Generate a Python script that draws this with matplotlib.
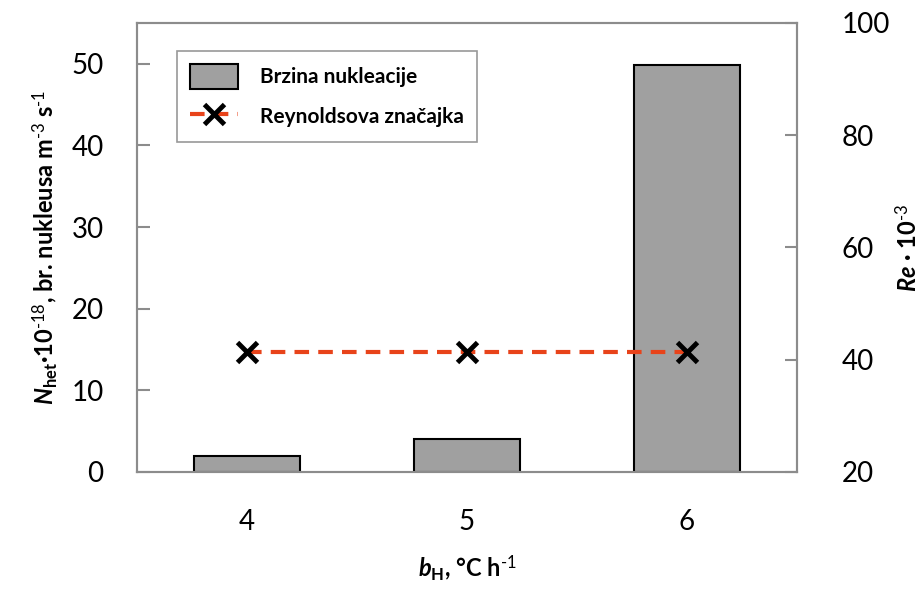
import matplotlib.pyplot as plt

plt.rcParams['font.family'] = ['Lato', 'DejaVu Sans']
plt.rcParams['mathtext.fontset'] = 'custom'
plt.rcParams['mathtext.rm'] = 'Lato'
plt.rcParams['mathtext.it'] = 'Lato:italic'
plt.rcParams['mathtext.bf'] = 'Lato:bold'
plt.rcParams['mathtext.bfit'] = 'Lato:bold:italic'

# data
brzina = ['4', '5', '6']
nukleacija = [2.0, 4.1, 49.8]
reynolds = [41.3, 41.3, 41.3]

fig = plt.figure(figsize=(9.23, 5.89), dpi=100)
ax = fig.add_axes([137/923, 1-472/589, 660/923, 449/589])
ax2 = ax.twinx()

x = list(range(len(brzina)))
ax.bar(x, nukleacija, width=0.48, color='#a0a0a0', edgecolor='black',
       linewidth=1.5, label='Brzina nukleacije', zorder=2)
ax2.plot(x, reynolds, color='#e8431a', ls=(0, (3.5, 2.2)), lw=3,
         marker='x', ms=14, mec='black', mew=3.5, label='Reynoldsova značajka')

ax.set_xlim(-0.5, 2.5)
ax.set_ylim(0, 55)
ax2.set_ylim(20, 100)
ax.set_xticks(x)
ax.set_xticklabels(brzina)
ax.set_yticks([0, 10, 20, 30, 40, 50])
ax2.set_yticks([20, 40, 60, 80, 100])

for a in (ax, ax2):
    for s in a.spines.values():
        s.set_color('#8c8c8c')
        s.set_linewidth(1.5)
ax.tick_params(axis='x', length=0, labelsize=20, pad=27)
ax.tick_params(axis='y', direction='in', length=9, width=1.5, color='#8c8c8c',
               labelsize=20, pad=24)
ax2.tick_params(axis='y', direction='in', length=9, width=1.5, color='#8c8c8c',
                labelsize=20, pad=32)

ax.set_xlabel(r'$\boldsymbol{b}_{\mathregular{H}}$, °C h$^{\text{-1}}$',
              fontsize=17, fontweight='bold', labelpad=13)
ax.set_ylabel(r'$\boldsymbol{N}_{\mathregular{het}}$·10$^{\text{-18}}$, br. nukleusa m$^{\text{-3}}$ s$^{\text{-1}}$',
              fontsize=17, fontweight='bold', labelpad=8)
ax2.set_ylabel(r'$\boldsymbol{Re}$ · 10$^{\text{-3}}$', fontsize=17,
               fontweight='bold', labelpad=3)

h1, l1 = ax.get_legend_handles_labels()
h2, l2 = ax2.get_legend_handles_labels()
leg = ax2.legend(h1 + h2, l1 + l2, loc='upper left', bbox_to_anchor=(0.045, 0.96),
                 frameon=True, fancybox=False, edgecolor='#7f7f7f',
                 handlelength=2.3, handleheight=1.5, borderpad=0.6, labelspacing=0.7,
                 handletextpad=1.1, prop={'weight': 'bold', 'size': 15})
leg.get_frame().set_linewidth(1.2)

fig.savefig('out.png', dpi=100, facecolor='white')
